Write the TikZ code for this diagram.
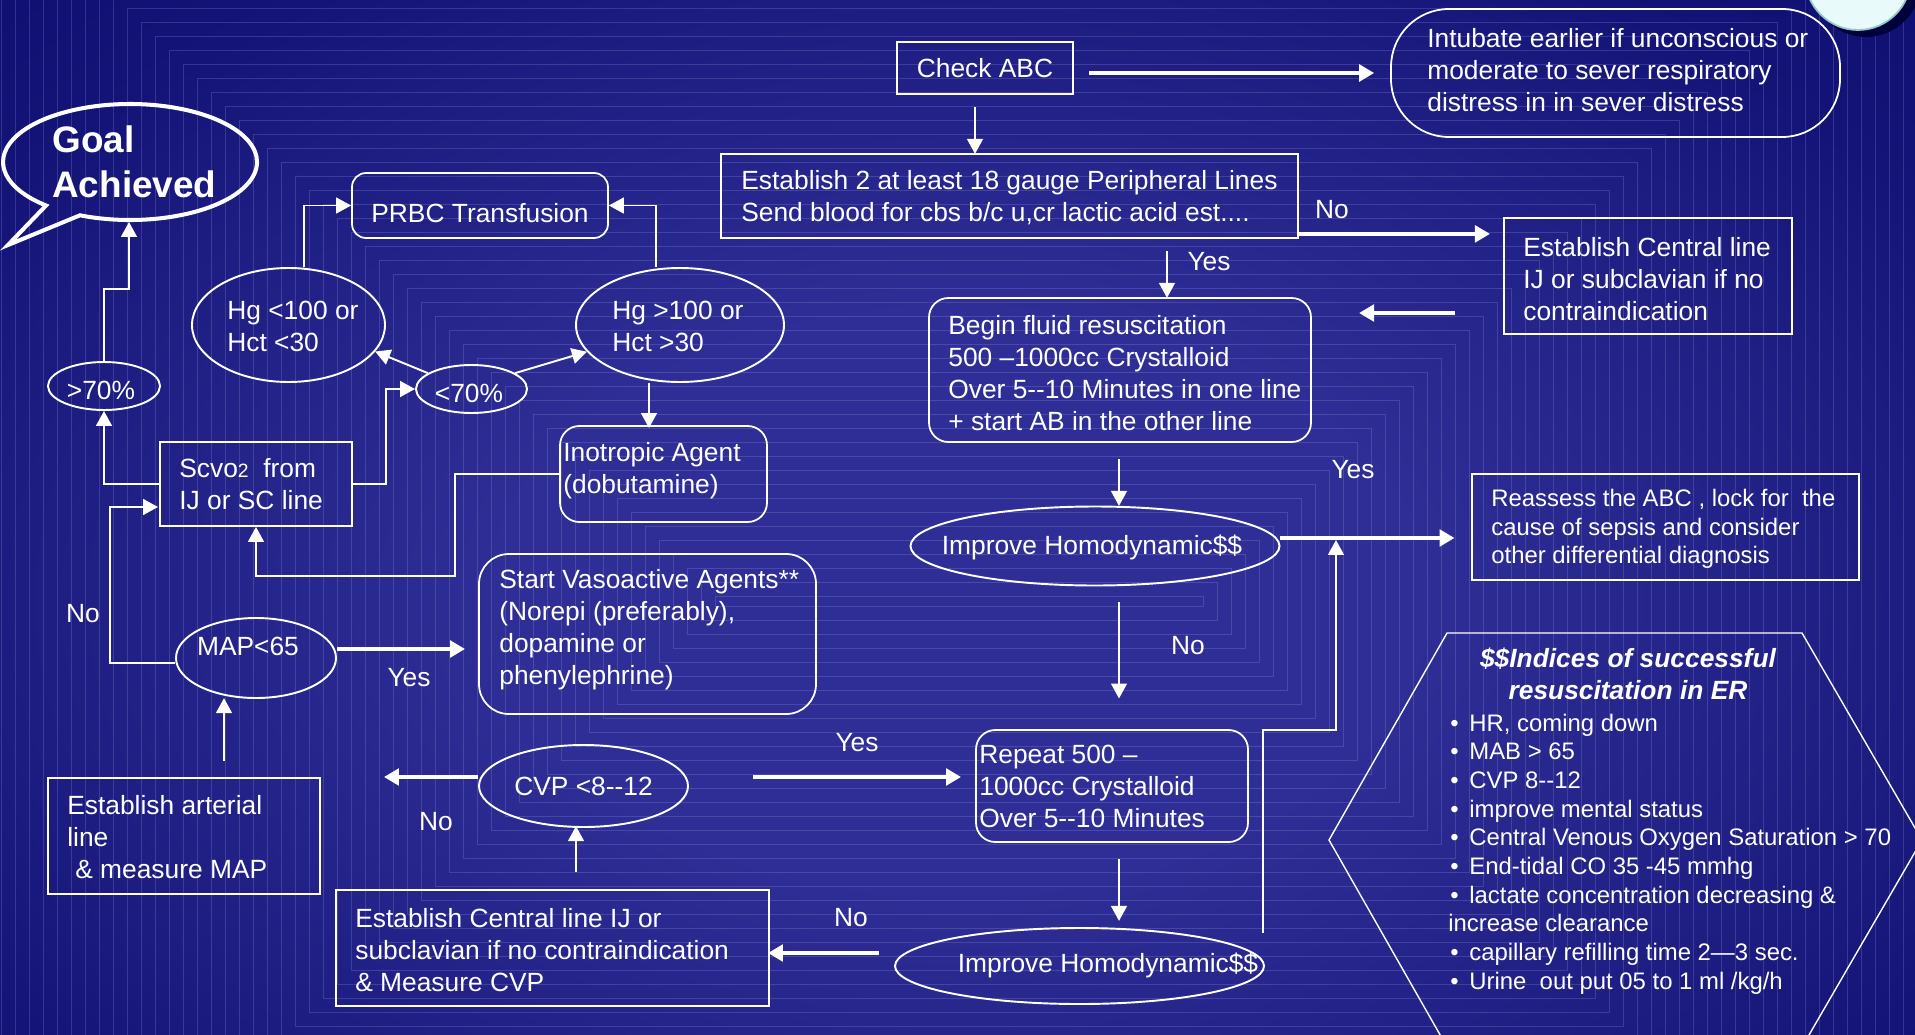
\documentclass[tikz,border=0pt]{standalone}
\usepackage{fontspec}
\setmainfont{Liberation Sans}
\usetikzlibrary{arrows.meta,shapes.geometric,calc}

\definecolor{bgdark}{RGB}{4,4,102}
\definecolor{bgmid}{RGB}{20,20,120}
\definecolor{bglight}{RGB}{46,46,150}
\definecolor{moonfill}{RGB}{232,250,250}
\definecolor{moonrim}{RGB}{150,200,200}
\definecolor{moonshade}{RGB}{0,0,60}
\pgfdeclareradialshading{backdrop}{\pgfpoint{0bp}{0bp}}{color(0bp)=(bglight); color(12bp)=(bglight); color(30bp)=(bgmid); color(50bp)=(bgdark); color(72bp)=(bgdark)}
\newcommand{\idxbullet}{\makebox[0.42cm][l]{\hspace{0.04cm}\textbullet}}

\begin{document}
\begin{tikzpicture}[x=0.02cm,y=-0.02cm,
  txt/.style={text=white, font=\fontsize{15}{18.2}\selectfont, inner sep=0pt},
  small/.style={font=\fontsize{13.6}{16.3}\selectfont},
  sq/.style={txt, draw=white, line width=1pt, rectangle},
  rbox/.style={sq, rounded corners=#1},
  oval/.style={txt, draw=white, line width=1.1pt, ellipse},
  pxsize/.style 2 args={minimum width=#1*0.02cm, minimum height=#2*0.02cm},
  arr/.style={draw=white, line width=1.1pt, -{Triangle[length=8.5pt,width=9pt]}},
  bigarr/.style={draw=white, line width=1.9pt, -{Triangle[length=8.5pt,width=9.5pt]}},
  bgline/.style={draw={rgb,255:red,170;green,170;blue,235}, opacity=0.22, line width=0.45pt}]
\useasboundingbox (0,0) rectangle (1915,1034);
\clip (0,0) rectangle (1915,1034);
% background
\shade[shading=backdrop] (0,0) rectangle (1915,1202);
\foreach \k in {0,...,70}
  \draw[bgline] ({715-14*\k},{596-14*\k}) rectangle ({1203+14*\k},{606+14*\k});
\fill[moonshade] (1866,-18) circle[radius=1.1cm];
\draw[moonrim, fill=moonfill, line width=1pt] (1858,-23) circle[radius=1.06cm];

% goal callout
\draw[white, line width=2.3pt] (80,215.3) arc[start angle=246.8, end angle=588.6, x radius=2.54cm, y radius=1.16cm] -- (8,245) -- cycle;
\coordinate (goalbot) at (129,222);
\node[txt, font=\fontsize{21}{25.6}\selectfont\bfseries, align=left, anchor=west] (goal) at (52,162) {Goal\\Achieved};

% boxes
\node[sq, pxsize={176}{52}] (chk) at (985,68) {Check ABC};
\node[rbox=33pt, pxsize={449}{128}] (intub) at (1615.5,73) {};
\node[txt, align=left, anchor=west] (intub-t) at (1427,70) {Intubate earlier if unconscious or\\moderate to sever respiratory\\distress in in sever distress};
\node[sq, pxsize={577}{84}] (est2) at (1009.5,196) {};
\node[txt, align=left, anchor=west] (est2-t) at (741,197.5) {Establish 2 at least 18 gauge Peripheral Lines\\Send blood for cbs b/c u,cr lactic acid est....};
\node[sq, pxsize={288}{116}] (cent) at (1648,276) {};
\node[txt, align=left, anchor=west] (cent-t) at (1523,279) {Establish Central line\\IJ or subclavian if no\\contraindication};
\node[rbox=11pt, pxsize={382}{144}] (begin) at (1120,370) {};
\node[txt, align=left, anchor=west] (begin-t) at (948,373.5) {Begin fluid resuscitation\\500 –1000cc Crystalloid\\Over 5-{}-10 Minutes in one line\\+ start AB in the other line};
\node[oval, pxsize={369}{79}] (imp1) at (1095,546) {};
\node[txt] (imp1-t) at (1092,547) {Improve Homodynamic\$\$};
\node[sq, pxsize={387}{106}] (reas) at (1665.5,527) {};
\node[txt, small, align=left, anchor=west] (reas-t) at (1491,529) {Reassess the ABC , lock for~ the\\cause of sepsis and consider\\other differential diagnosis};
\node[rbox=11pt, pxsize={272}{112}] (rep) at (1112,786) {};
\node[txt, align=left, anchor=west] (rep-t) at (979,786) {Repeat 500 –\\1000cc Crystalloid\\Over 5-{}-10 Minutes};
\node[oval, pxsize={369}{76}] (imp2) at (1079.5,966) {};
\node[txt] (imp2-t) at (1108,965) {Improve Homodynamic\$\$};
\node[sq, pxsize={433}{116}] (estc) at (552.5,948) {};
\node[txt, align=left, anchor=west] (estc-t) at (355,950) {Establish Central line IJ or\\subclavian if no contraindication\\\& Measure CVP};
\node[oval, pxsize={209}{82}] (cvp) at (583.5,786) {CVP <8-{}-12};
\node[sq, pxsize={272}{116}] (art) at (184,836) {};
\node[txt, align=left, anchor=west] (art-t) at (67,837) {Establish arterial\\line\\\hspace*{0.16cm}\& measure MAP};
\node[oval, pxsize={160}{80}] (map) at (256,658) {};
\node[txt] (map-t) at (248,646) {MAP<65};
\node[rbox=17pt, pxsize={337}{160}] (vaso) at (647.5,634) {};
\node[txt, align=left, anchor=west] (vaso-t) at (499,630) {Start Vasoactive Agents**\\(Norepi (preferably),\\dopamine or\\phenylephrine)};
\node[sq, pxsize={192}{84}] (scvo) at (256,484) {};
\node[txt, align=left, anchor=west] (scvo-t) at (179,484.5) {Scvo{\fontsize{11}{13}\selectfont 2}~ from\\IJ or SC line};
\node[oval, pxsize={112}{48}] (gt) at (104,386) {};
\node[txt] (gt-t) at (101,390) {>70\%};
\node[oval, pxsize={111}{48}] (lt) at (471.5,389) {};
\node[txt] (lt-t) at (469,393) {<70\%};
\node[oval, pxsize={193}{114}] (hgl) at (288.5,325) {};
\node[txt, align=left, anchor=west] (hgl-t) at (227,326) {Hg <100 or\\Hct <30};
\node[oval, pxsize={208}{114}] (hgr) at (680,325) {};
\node[txt, align=left, anchor=west] (hgr-t) at (612,326) {Hg >100 or\\Hct >30};
\node[rbox=8pt, pxsize={256}{65}] (prbc) at (480,205.5) {};
\node[txt] (prbc-t) at (480,213) {PRBC Transfusion};
\node[rbox=11pt, pxsize={207}{96}] (inot) at (663.5,474) {};
\node[txt, align=left, anchor=west] (inot-t) at (563,471) {Inotropic Agent\\(dobutamine)};

% indices
\draw[white, line width=0.8pt] (1447,633) -- (1802,633) -- (1922,840) -- (1802,1047) -- (1447,1047) -- (1329,840) -- cycle;
\node[txt, font=\fontsize{15}{18.2}\selectfont\bfseries\itshape, align=center] (idx-h) at (1628,674) {\$\$Indices of successful\\resuscitation in ER};
\node[txt, small, align=left, anchor=west] (idx-l) at (1448,854) {\idxbullet HR, coming down\\\idxbullet MAB > 65\\\idxbullet CVP 8-{}-12\\\idxbullet improve mental status\\\idxbullet Central Venous Oxygen Saturation > 70\\\idxbullet End-tidal CO 35 -45 mmhg\\\idxbullet lactate concentration decreasing \&\\increase clearance\\\idxbullet capillary refilling time 2—3 sec.\\\idxbullet Urine~ out put 05 to 1 ml /kg/h};

% connectors
\draw[bigarr] ($(chk.east)+(15,5)$) -- ($(intub.west)+(-16,0)$);
\draw[arr] ($(chk.south)+(-10,12)$) -- ++(0,47);
\draw[bigarr] ($(est2.south east)+(0,-5)$) -- ++(191,0);
\draw[bigarr] ($(cent.west)+(-48,37)$) -- ++(-96,0);
\draw[arr] ($(est2.south)+(157.5,12)$) -- ++(0,47);
\draw[arr] ($(begin.south)+(-1,16)$) -- ++(0,47);
\draw[bigarr] ($(imp1.east)+(0,-8)$) -- ++(174,0);
\draw[arr] ($(imp1.south)+(24,16)$) -- ++(0,96);
\draw[arr] ($(rep.south)+(7,16)$) -- ++(0,62);
\draw[arr] ($(imp2.east)+(-2,-33)$) -- ++(0,-203) -- ++(73,0) -- ++(0,-190);
\draw[bigarr] ($(imp2.west)+(-15,-13)$) -- ++(-111,0);
\draw[arr] ($(estc.north)+(23.5,-17)$) -- ++(0,-46);
\draw[bigarr] ($(cvp.west)+(0,-9)$) -- ++(-94,0);
\draw[bigarr] ($(cvp.east)+(64,-9)$) -- ++(208,0);
\draw[arr] ($(art.north)+(40,-16)$) -- ++(0,-63);
\draw[bigarr] ($(map.east)+(0,-9)$) -- ++(128,0);
\draw[arr] ($(map.west)+(0,5)$) -- ++(-65,0) -- ++(0,-156) -- ++(48,0);
\draw[arr] (scvo.west) -| (gt.south);
\draw[arr] (gt.north) -- ++(0,-72) -| (goalbot);
\draw[arr] (scvo.east) -- ++(33,0) |- (lt.west);
\draw[arr] (lt.160) -- (hgl.-17);
\draw[arr] (lt.20) -- (hgr.196);
\draw[arr] ($(hgl.north)+(15.5,0)$) |- (prbc.west);
\draw[arr] ($(hgr.north)+(-24,0)$) |- (prbc.east);
\draw[arr] ($(hgr.south)+(-31,0)$) -- ++(0,45);
\draw[arr] (inot.west) -- ++(-104,0) -- ++(0,102) -| (scvo.south);

% yes / no
\node[txt] (no1) at (1332,210) {No};
\node[txt] (yes1) at (1209,262) {Yes};
\node[txt] (yes2) at (1353,470) {Yes};
\node[txt] (no2) at (1188,646) {No};
\node[txt] (yes3) at (857,743) {Yes};
\node[txt] (no3) at (436,822) {No};
\node[txt] (no4) at (851,918) {No};
\node[txt] (yes4) at (409,678) {Yes};
\node[txt] (no5) at (83,614) {No};
\end{tikzpicture}
\end{document}
